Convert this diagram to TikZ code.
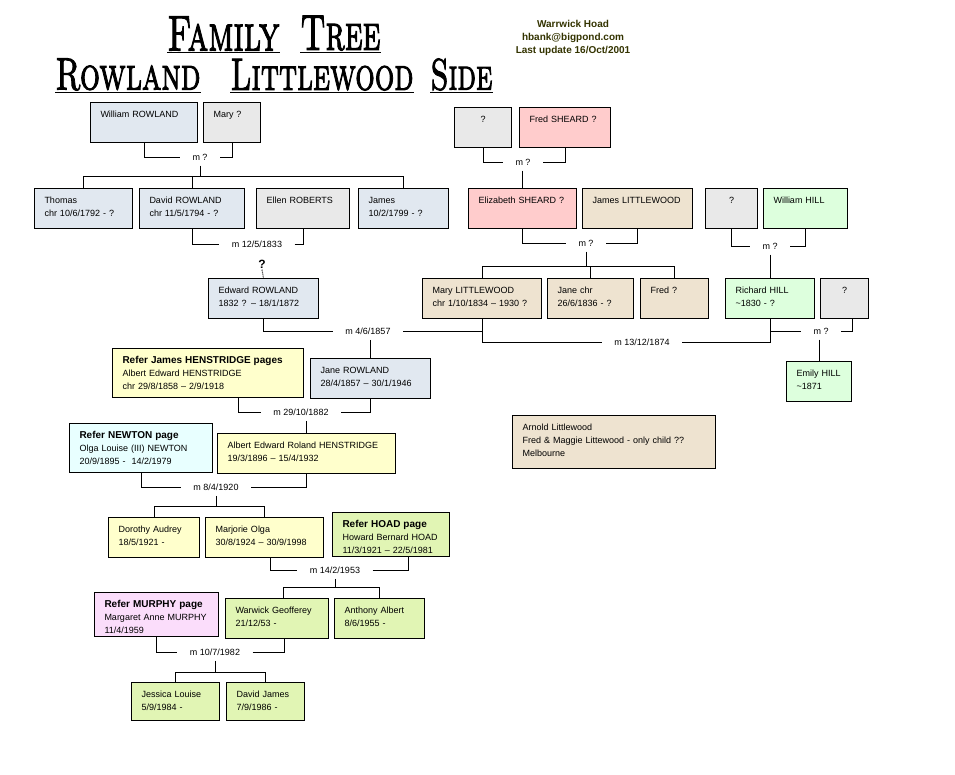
\documentclass[tikz,border=0pt]{standalone}
\usepackage{graphicx}
\usepackage{fontspec}
\newfontfamily\boxfont{Liberation Sans}
\newfontfamily\titlefont{lmromancaps10-regular.otf}[FakeBold=2.5]
\definecolor{cblue}{HTML}{E1E8F0}
\definecolor{cgray}{HTML}{E9E9E9}
\definecolor{cpink}{HTML}{FFCCCC}
\definecolor{ctan}{HTML}{EEE3D0}
\definecolor{cgreen}{HTML}{DDFFDD}
\definecolor{cyellow}{HTML}{FFFFCC}
\definecolor{ccyan}{HTML}{E8FFFF}
\definecolor{cygreen}{HTML}{E1F5B4}
\definecolor{cmagenta}{HTML}{FBDDFB}
\definecolor{cheader}{HTML}{333300}
\newcommand\refhead[1]{{\fontsize{10}{13}\selectfont\bfseries #1}}

\begin{document}
\begin{tikzpicture}[x=1pt, y=-1pt, line width=1pt,
    person/.style={draw, anchor=north west, align=left, inner xsep=10pt, inner ysep=0pt,
      text height=14.5pt, text depth=25pt, font=\boxfont\fontsize{9}{13}\selectfont},
    unknown/.style={person, align=center, fill=cgray},
    wed/.style={font=\boxfont\fontsize{9}{13}\selectfont, inner xsep=12pt, inner ysep=5pt},
    title/.style={inner sep=0pt, anchor=south west, font=\titlefont}]
    \useasboundingbox (0,0) rectangle (955,774);

    \node[title] (t_family) at (167,51) {\resizebox{112pt}{34pt}{Family}};
    \node[title] (t_tree) at (300,51) {\resizebox{80pt}{34pt}{Tree}};
    \node[title] (t_rowland) at (55,91) {\resizebox{145pt}{31pt}{Rowland}};
    \node[title] (t_littlewood) at (230,91) {\resizebox{183pt}{31pt}{Littlewood}};
    \node[title] (t_side) at (430,91) {\resizebox{62pt}{31pt}{Side}};
    \foreach \w in {t_family,t_tree,t_rowland,t_littlewood,t_side}
        \draw ([yshift=-1.5pt]\w.south west) -- ([yshift=-1.5pt]\w.south east);
    \node[font=\boxfont\bfseries\fontsize{10}{13}\selectfont, text=cheader, align=center] (author) at (573,38)
        {Warrwick Hoad\\hbank@bigpond.com\\Last update 16/Oct/2001};

    \node[person, fill=cblue, text width=87pt] (w_rowland) at (90,102) {William ROWLAND};
    \node[person, fill=cgray, text width=37pt] (mary_q) at (203,102) {Mary ?};
    \node[unknown, text width=37pt] (sheard_q) at (454,107) {?};
    \node[person, fill=cpink, text width=71pt] (f_sheard) at (519,107) {Fred SHEARD ?};

    \node[person, fill=cblue, text width=78pt] (thomas) at (34,188) {Thomas\\chr 10/6/1792 - ?};
    \node[person, fill=cblue, text width=85pt] (d_rowland) at (139,188) {David ROWLAND\\chr 11/5/1794 - ?};
    \node[person, fill=cgray, text width=73pt] (e_roberts) at (256,188) {Ellen ROBERTS};
    \node[person, fill=cblue, text width=70pt] (james) at (358,188) {James\\10/2/1799 - ?};
    \node[person, fill=cpink, text width=88pt] (e_sheard) at (468,188) {Elizabeth SHEARD ?};
    \node[person, fill=ctan, text width=90pt] (j_littlewood) at (582,188) {James LITTLEWOOD};
    \node[unknown, text width=32pt] (hill_q) at (705,188) {?};
    \node[person, fill=cgreen, text width=64pt] (w_hill) at (763,188) {William HILL};

    \node[person, fill=cblue, text width=90pt] (e_rowland) at (208,278) {Edward ROWLAND\\1832 ? – 18/1/1872};
    \node[person, fill=ctan, text width=99pt] (m_littlewood) at (422,278) {Mary LITTLEWOOD\\chr 1/10/1834 – 1930 ?};
    \node[person, fill=ctan, text width=66pt] (jane) at (547,278) {Jane chr\\26/6/1836 - ?};
    \node[person, fill=ctan, text width=48pt] (fred) at (640,278) {Fred ?};
    \node[person, fill=cgreen, text width=69pt] (r_hill) at (725,278) {Richard HILL\\\textasciitilde1830 - ?};
    \node[unknown, text width=28pt] (r_hill_q) at (820,278) {?};
    \node[font=\boxfont\bfseries\fontsize{12}{12}\selectfont, inner sep=1pt] (q_e_rowland) at (262,264) {?};

    \node[person, fill=cyellow, text width=171pt, text depth=34.5pt] (a_henstridge) at (112,348)
        {\refhead{Refer James HENSTRIDGE pages}\\Albert Edward HENSTRIDGE\\chr 29/8/1858 – 2/9/1918};
    \node[person, fill=cblue, text width=100pt] (j_rowland) at (310,358) {Jane ROWLAND\\28/4/1857 – 30/1/1946};
    \node[person, fill=cgreen, text width=45pt] (e_hill) at (786,361) {Emily HILL\\\textasciitilde1871};
    \node[person, fill=ctan, text width=183pt, text depth=38.5pt] (a_littlewood) at (512,415)
        {Arnold Littlewood\\Fred \& Maggie Littewood - only child ??\\Melbourne};
    \node[person, fill=ccyan, text width=123pt, text depth=34.5pt] (o_newton) at (69,423)
        {\refhead{Refer NEWTON page}\\Olga Louise (III) NEWTON\\20/9/1895 -~ 14/2/1979};
    \node[person, fill=cyellow, text width=158pt] (aer_henstridge) at (217,433)
        {Albert Edward Roland HENSTRIDGE\\19/3/1896 – 15/4/1932};

    \node[person, fill=cyellow, text width=71pt] (dorothy) at (108,517) {Dorothy Audrey\\18/5/1921 -};
    \node[person, fill=cyellow, text width=98pt] (marjorie) at (205,517) {Marjorie Olga\\30/8/1924 – 30/9/1998};
    \node[person, fill=cygreen, text width=97pt, text depth=29.5pt] (h_hoad) at (332,512)
        {\refhead{Refer HOAD page}\\Howard Bernard HOAD\\11/3/1921 – 22/5/1981};
    \node[person, fill=cmagenta, text width=104pt, text depth=29.5pt] (m_murphy) at (94,592)
        {\refhead{Refer MURPHY page}\\Margaret Anne MURPHY\\11/4/1959};
    \node[person, fill=cygreen, text width=83pt] (warwick) at (225,598) {Warwick Geofferey\\21/12/53 -};
    \node[person, fill=cygreen, text width=70pt] (anthony) at (334,598) {Anthony Albert\\8/6/1955 -};
    \node[person, fill=cygreen, text width=68pt, text depth=23.5pt] (jessica) at (131,682) {Jessica Louise\\5/9/1984 -};
    \node[person, fill=cygreen, text width=58pt, text depth=23.5pt] (d_james) at (226,682) {David James\\7/9/1986 -};

    \node[wed] (wed_w_rowland) at (200,157) {m ?};
    \node[wed] (wed_sheard) at (523,162) {m ?};
    \node[wed] (wed_d_rowland) at (257,244) {m 12/5/1833};
    \node[wed] (wed_littlewood) at (586,243) {m ?};
    \node[wed] (wed_w_hill) at (770,246) {m ?};
    \node[wed] (wed_e_rowland) at (368,331) {m 4/6/1857};
    \node[wed] (wed_r_hill) at (642,342) {m 13/12/1874};
    \node[wed] (wed_r_hill_q) at (821,331) {m ?};
    \node[wed] (wed_a_henstridge) at (301,412) {m 29/10/1882};
    \node[wed] (wed_aer_henstridge) at (216,487) {m 8/4/1920};
    \node[wed] (wed_marjorie) at (335,570) {m 14/2/1953};
    \node[wed] (wed_warwick) at (215,652) {m 10/7/1982};

    \coordinate (kids_w_rowland) at (0,176);
    \coordinate (kids_littlewood) at (0,266);
    \coordinate (kids_aer) at (0,506);
    \coordinate (kids_marjorie) at (0,587);
    \coordinate (kids_warwick) at (0,672);

    \draw
    (w_rowland.south) |- (wed_w_rowland.west)
    (wed_w_rowland.east) -| (mary_q.south)
    (wed_w_rowland.south) -- (wed_w_rowland.south |- kids_w_rowland)
    (thomas.north) -- (thomas.north |- kids_w_rowland) -- (james.north |- kids_w_rowland) -- (james.north)
    (d_rowland.north) -- (d_rowland.north |- kids_w_rowland)
    (sheard_q.south) |- (wed_sheard.west)
    (wed_sheard.east) -| (f_sheard.south)
    (wed_sheard.south -| e_sheard.north) -- (e_sheard.north)
    (d_rowland.south) |- (wed_d_rowland.west)
    (wed_d_rowland.east) -| (e_roberts.south)
    (e_sheard.south) |- (wed_littlewood.west)
    (wed_littlewood.east) -| (j_littlewood.south)
    (wed_littlewood.south) -- (wed_littlewood.south |- kids_littlewood)
    (m_littlewood.north) -- (m_littlewood.north |- kids_littlewood) -- (fred.north |- kids_littlewood) -- (fred.north)
    (jane.north) -- (jane.north |- kids_littlewood)
    (hill_q.south) |- (wed_w_hill.west)
    (wed_w_hill.east) -| (w_hill.south)
    (wed_w_hill.south -| r_hill.north) -- (r_hill.north)
    (e_rowland.south) |- (wed_e_rowland.west)
    (wed_e_rowland.east) -- (wed_e_rowland.east -| m_littlewood.south)
    (wed_e_rowland.south -| j_rowland.north) -- (j_rowland.north)
    (m_littlewood.south) |- (wed_r_hill.west)
    (wed_r_hill.east) -| (r_hill.south)
    (r_hill.south) |- (wed_r_hill_q.west)
    (wed_r_hill_q.east) -| ([xshift=8pt]r_hill_q.south)
    (wed_r_hill_q.south -| e_hill.north) -- (e_hill.north)
    ([xshift=30pt]a_henstridge.south) |- (wed_a_henstridge.west)
    (wed_a_henstridge.east) -| (j_rowland.south)
    (wed_a_henstridge.south -| aer_henstridge.north) -- (aer_henstridge.north)
    (o_newton.south) |- (wed_aer_henstridge.west)
    (wed_aer_henstridge.east) -| (aer_henstridge.south)
    (wed_aer_henstridge.south) -- (wed_aer_henstridge.south |- kids_aer)
    (dorothy.north) -- (dorothy.north |- kids_aer) -- (marjorie.north |- kids_aer) -- (marjorie.north)
    ([xshift=6pt]marjorie.south) |- (wed_marjorie.west)
    (wed_marjorie.east) -| ([xshift=17pt]h_hoad.south)
    (wed_marjorie.south) -- (wed_marjorie.south |- kids_marjorie)
    ([xshift=6pt]warwick.north) -- ([xshift=6pt]warwick.north |- kids_marjorie) -- (anthony.north |- kids_marjorie) -- (anthony.north)
    (m_murphy.south) |- (wed_warwick.west)
    (wed_warwick.east) -| ([xshift=7pt]warwick.south)
    (wed_warwick.south) -- (wed_warwick.south |- kids_warwick)
    (jessica.north) -- (jessica.north |- kids_warwick) -- (d_james.north |- kids_warwick) -- (d_james.north);
    \draw[densely dotted] (q_e_rowland.south) -- (e_rowland.north);

\end{tikzpicture}
\end{document}
